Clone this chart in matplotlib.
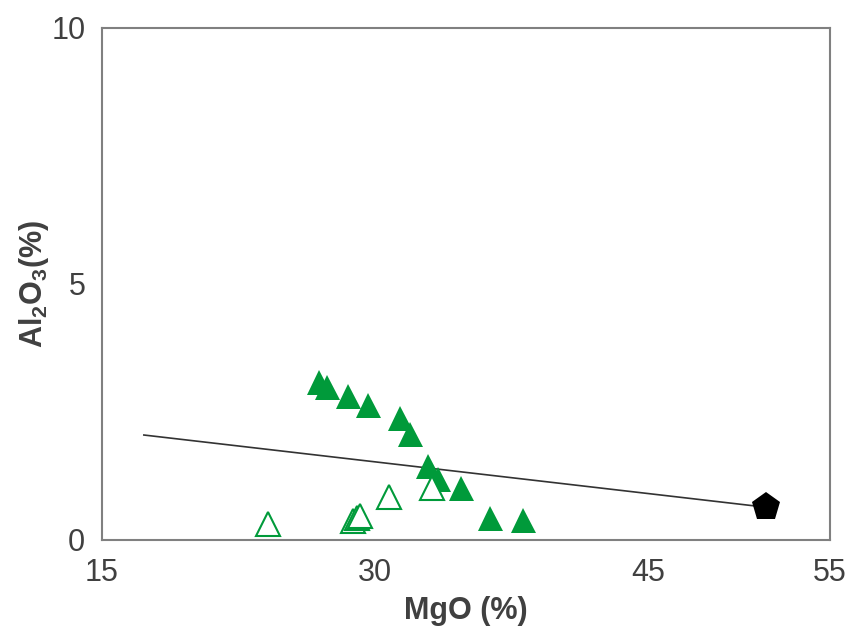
import matplotlib
matplotlib.use('Agg')
import matplotlib.pyplot as plt

plt.rcParams['font.family'] = ['Liberation Sans', 'DejaVu Sans']
plt.rcParams['mathtext.fontset'] = 'custom'
plt.rcParams['mathtext.rm'] = 'Liberation Sans:bold'
plt.rcParams['mathtext.bf'] = 'Liberation Sans:bold'
plt.rcParams['mathtext.default'] = 'bf'

# filled triangles
filled_mgo = [26.9, 27.35, 28.54, 29.63, 31.37, 31.92, 32.9, 33.47, 34.7, 36.3, 38.14]
filled_al = [3.09, 2.98, 2.81, 2.63, 2.38, 2.07, 1.45, 1.19, 1.02, 0.43, 0.39]

# open triangles
open_mgo = [24.14, 28.8, 29.0, 29.2, 30.77, 33.14]
open_al = [0.31, 0.38, 0.42, 0.46, 0.84, 1.01]

# pentagon
pent_mgo = [51.47]
pent_al = [0.65]

# line
line_mgo = [17.3, 51.47]
line_al = [2.05, 0.64]

xticks = [15, 30, 45, 55]
yticks = [0, 5, 10]

green = '#009a3a'

fig = plt.figure(figsize=(8.5, 6.3), dpi=100)
ax = fig.add_axes([0.12, 0.1429, 0.8565, 0.8127])

ax.plot(line_mgo, line_al, '-', color='#333333', linewidth=1.2, zorder=2)
ax.plot(filled_mgo, filled_al, '^', color=green, markersize=18, markeredgewidth=0, zorder=3)
ax.plot(open_mgo, open_al, '^', markerfacecolor='white', markeredgecolor=green,
        markersize=17, markeredgewidth=1.5, zorder=4)
ax.plot(pent_mgo, pent_al, 'p', color='black', markersize=21, markeredgewidth=0, zorder=5)

ax.set_xlim(15, 55)
ax.set_ylim(0, 10)
ax.set_xticks(xticks)
ax.set_yticks(yticks)
ax.tick_params(axis='both', length=0, labelsize=22, colors='#404040')
ax.tick_params(axis='x', pad=13)
ax.tick_params(axis='y', pad=12)

for s in ax.spines.values():
    s.set_color('#808080')
    s.set_linewidth(1.5)

ax.set_xlabel('MgO (%)', fontsize=22, fontweight='bold', color='#404040', labelpad=6)
ax.set_ylabel(r'Al$_2$O$_3$(%)', fontsize=22, fontweight='bold', color='#404040', labelpad=0)

fig.savefig('out.png', dpi=100)
